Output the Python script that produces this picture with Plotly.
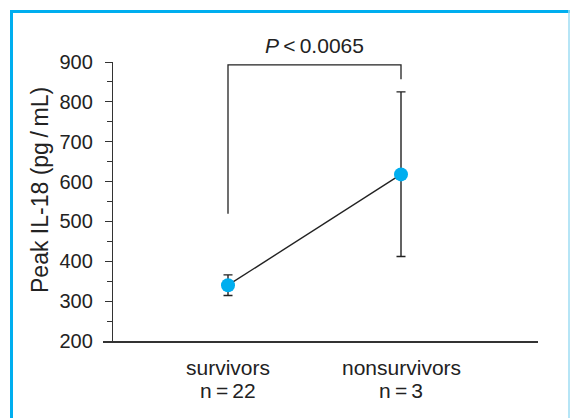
import plotly.graph_objects as go

# Group data: peak IL-18 (pg/mL), mean with error bar
groups = ["survivors", "nonsurvivors"]
group_n = [22, 3]
peak_il18 = [340, 618]
err_plus = [26, 207]
err_minus = [26, 206]

y_ticks = [200, 300, 400, 500, 600, 700, 800, 900]
p_label = "<i>P</i>\u2009&lt;\u20090.0065"
# significance bracket heights (left foot, bar, right foot)
bracket_y = [519, 893, 857]

W, H = 570, 418
L, R, T, B = 103, 538, 62, 341  # plot area in pixels

def px_x(px):
    return (px - L) / (R - L)

def px_y(py):
    return (B - py) / (B - T)

FONT = "Liberation Sans, Arial, Helvetica, sans-serif"
CYAN = "#00AEEF"
INK = "#222222"

xs = list(range(len(groups)))

fig = go.Figure()
fig.add_trace(go.Scatter(
    x=xs, y=peak_il18,
    mode="lines+markers",
    line=dict(color=INK, width=1.4),
    marker=dict(color=CYAN, size=14, line=dict(width=0)),
    error_y=dict(type="data", symmetric=False, array=err_plus, arrayminus=err_minus,
                 color=INK, thickness=1.4, width=4.5),
    showlegend=False,
    hoverinfo="skip",
))

shapes = [
    # significance bracket
    dict(type="path", xref="x", yref="y",
         path=f"M 0 {bracket_y[0]} L 0 {bracket_y[1]} L 1 {bracket_y[1]} L 1 {bracket_y[2]}",
         line=dict(color=INK, width=1.3)),
    # panel frame
    dict(type="line", xref="paper", yref="paper",
         x0=px_x(10), x1=px_x(570), y0=px_y(11.5), y1=px_y(11.5),
         line=dict(color=CYAN, width=3)),
    dict(type="line", xref="paper", yref="paper",
         x0=px_x(11.5), x1=px_x(11.5), y0=px_y(10), y1=px_y(420),
         line=dict(color=CYAN, width=3)),
    dict(type="line", xref="paper", yref="paper",
         x0=px_x(569), x1=px_x(569), y0=px_y(10), y1=px_y(420),
         line=dict(color="#9EDDF3", width=1.5)),
]

annotations = [
    dict(text=p_label, xref="x", yref="paper", x=0.5, y=px_y(46),
         xanchor="center", yanchor="middle", showarrow=False,
         font=dict(family=FONT, size=21, color=INK)),
    dict(text="Peak IL-18 (pg\u2009/\u2009mL)", xref="paper", yref="paper",
         x=px_x(40), y=px_y(190), textangle=-90,
         xanchor="center", yanchor="middle", showarrow=False,
         font=dict(family=FONT, size=23, color=INK)),
]
# category labels: group name and sample size on two lines
for x, g, n in zip(xs, groups, group_n):
    annotations.append(dict(text=g, xref="x", yref="paper", x=x, y=px_y(367),
                            xanchor="center", yanchor="middle", showarrow=False,
                            font=dict(family=FONT, size=21, color=INK)))
    annotations.append(dict(text=f"n\u2009=\u2009{n}", xref="x", yref="paper", x=x, y=px_y(390),
                            xanchor="center", yanchor="middle", showarrow=False,
                            font=dict(family=FONT, size=21, color=INK)))

fig.update_layout(
    width=W, height=H,
    margin=dict(l=L, r=W - R, t=T, b=H - B, pad=0),
    paper_bgcolor="white", plot_bgcolor="white",
    shapes=shapes, annotations=annotations,
    font=dict(family=FONT, color=INK),
    xaxis=dict(
        range=[-125 / 173, 1 + 137 / 173],
        tickvals=xs, showticklabels=False,
        showline=True, linecolor="#333333", linewidth=1.5,
        ticks="", showgrid=False, zeroline=False,
    ),
    yaxis=dict(
        range=[200, 900],
        anchor="free", position=px_x(112),
        tickvals=y_ticks,
        showline=True, linecolor="#333333", linewidth=1.3,
        ticks="outside", ticklen=7, tickwidth=1.3, tickcolor="#333333",
        minor=dict(tick0=250, dtick=100, ticks="outside", ticklen=5,
                   tickwidth=1.3, tickcolor="#333333"),
        showgrid=False, zeroline=False,
        tickfont=dict(family=FONT, size=20, color=INK),
        ticklabelstandoff=8,
    ),
)

fig.write_html("out.html")
